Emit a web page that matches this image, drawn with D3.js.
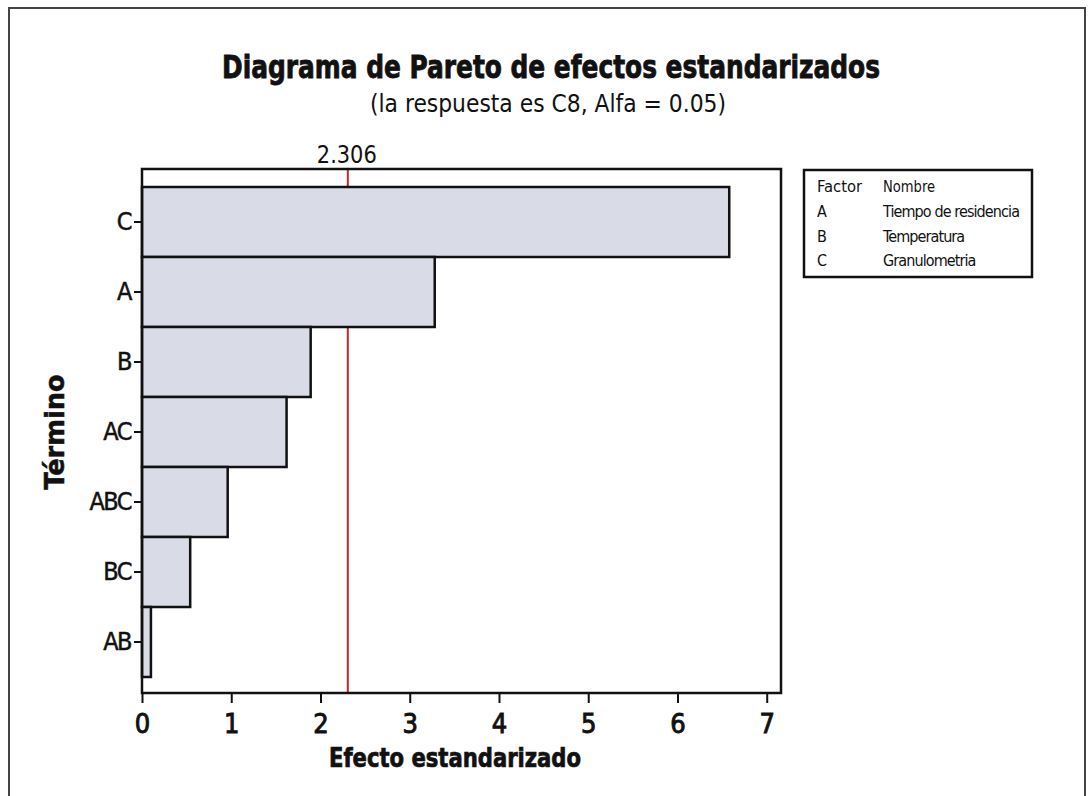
<!DOCTYPE html>
<html>
<head>
<meta charset="utf-8">
<script src="https://cdn.jsdelivr.net/npm/d3@7"></script>
<style>
  body { margin: 0; background: #fff; }
  text { font-family: "DejaVu Sans Condensed", "DejaVu Sans", sans-serif; fill: #111; }
  .tick line { stroke: #111; stroke-width: 2px; }
  .domain { display: none; }
</style>
</head>
<body>
<div class="container"></div>
<script>
const WIDTH = 1088;
const HEIGHT = 796;

// plot box
const PLOT_LEFT = 142;
const PLOT_RIGHT = 781;
const PLOT_TOP = 169;
const PLOT_BOTTOM = 693;

var terms = ['C', 'A', 'B', 'AC', 'ABC', 'BC', 'AB'];
var effects = [6.58, 3.28, 1.89, 1.62, 0.96, 0.54, 0.10];
var xTicks = [0, 1, 2, 3, 4, 5, 6, 7];
var critical = 2.306;

var legendFactors = ['A', 'B', 'C'];
var legendNames = ['Tiempo de residencia', 'Temperatura', 'Granulometria'];

var _xScale = d3.scaleLinear()
    .domain([0, 7.16])
    .range([PLOT_LEFT, PLOT_RIGHT]);

var _yScale = d3.scaleBand()
    .domain(terms)
    .range([187, 677])
    .padding(0);

var _svg = d3.select('.container').append('svg')
    .attr('width', WIDTH)
    .attr('height', HEIGHT);

// outer frame
_svg.append('rect')
    .attr('x', 9).attr('y', 8)
    .attr('width', 1076).attr('height', 800)
    .attr('fill', 'none')
    .attr('stroke', '#444')
    .attr('stroke-width', 2);

// titles
_svg.append('text')
    .attr('x', 551).attr('y', 78)
    .attr('text-anchor', 'middle')
    .attr('font-size', 32)
    .attr('font-weight', 'bold')
    .attr('stroke', '#111')
    .attr('stroke-width', 0.8)
    .attr('textLength', 658)
    .attr('lengthAdjust', 'spacingAndGlyphs')
    .text('Diagrama de Pareto de efectos estandarizados');

_svg.append('text')
    .attr('x', 548).attr('y', 112)
    .attr('text-anchor', 'middle')
    .attr('font-size', 24)
    .attr('textLength', 356)
    .attr('lengthAdjust', 'spacingAndGlyphs')
    .text('(la respuesta es C8, Alfa =  0.05)');

// critical line
_svg.append('line')
    .attr('x1', _xScale(critical)).attr('x2', _xScale(critical))
    .attr('y1', PLOT_TOP).attr('y2', PLOT_BOTTOM)
    .attr('stroke', '#c4262e')
    .attr('stroke-width', 2);

_svg.append('text')
    .attr('x', _xScale(critical) - 1).attr('y', 163)
    .attr('text-anchor', 'middle')
    .attr('font-size', 25)
    .attr('textLength', 60)
    .attr('lengthAdjust', 'spacingAndGlyphs')
    .text(critical.toFixed(3));

// bars
_svg.append('g').selectAll('rect')
    .data(terms)
    .enter().append('rect')
    .attr('x', _xScale(0))
    .attr('y', function (d) { return _yScale(d); })
    .attr('width', function (d, i) { return _xScale(effects[i]) - _xScale(0); })
    .attr('height', _yScale.bandwidth())
    .attr('fill', '#d9dce7')
    .attr('stroke', '#111')
    .attr('stroke-width', 2.5);

// plot border
_svg.append('rect')
    .attr('x', PLOT_LEFT).attr('y', PLOT_TOP)
    .attr('width', PLOT_RIGHT - PLOT_LEFT)
    .attr('height', PLOT_BOTTOM - PLOT_TOP)
    .attr('fill', 'none')
    .attr('stroke', '#111')
    .attr('stroke-width', 2.5);

// axes
var xAxis = d3.axisBottom(_xScale).tickValues(xTicks).tickSize(10).tickPadding(11)
    .tickFormat(d3.format('d'));
var gx = _svg.append('g')
    .attr('transform', 'translate(0,' + PLOT_BOTTOM + ')')
    .call(xAxis);
gx.selectAll('text').attr('font-size', 27)
    .attr('stroke', '#111').attr('stroke-width', 0.9)
    .attr('font-family', 'DejaVu Sans Condensed');

var yAxis = d3.axisLeft(_yScale).tickSize(8).tickPadding(3);
var gy = _svg.append('g')
    .attr('transform', 'translate(' + PLOT_LEFT + ',0)')
    .call(yAxis);
gy.selectAll('text').attr('font-size', 25).attr('font-family', 'DejaVu Sans Condensed')
    .attr('stroke', '#111').attr('stroke-width', 0.5)
    .attr('letter-spacing', -1.5);

// axis titles
_svg.append('text')
    .attr('x', 455).attr('y', 767)
    .attr('text-anchor', 'middle')
    .attr('font-size', 27)
    .attr('font-weight', 'bold')
    .attr('stroke', '#111')
    .attr('stroke-width', 0.7)
    .attr('textLength', 252)
    .attr('lengthAdjust', 'spacingAndGlyphs')
    .text('Efecto estandarizado');

_svg.append('text')
    .attr('transform', 'translate(64,432) rotate(-90)')
    .attr('text-anchor', 'middle')
    .attr('font-size', 27)
    .attr('font-weight', 'bold')
    .attr('stroke', '#111')
    .attr('stroke-width', 0.5)
    .attr('textLength', 115)
    .attr('lengthAdjust', 'spacingAndGlyphs')
    .text('Término');

// legend
var lg = _svg.append('g');
lg.append('rect')
    .attr('x', 804).attr('y', 170)
    .attr('width', 228).attr('height', 107)
    .attr('fill', '#fff')
    .attr('stroke', '#111')
    .attr('stroke-width', 2.5);

lg.append('text').attr('x', 817).attr('y', 192).attr('font-size', 16)
    .attr('textLength', 45).attr('lengthAdjust', 'spacingAndGlyphs').text('Factor');
lg.append('text').attr('x', 883).attr('y', 192).attr('font-size', 16)
    .attr('textLength', 52).attr('lengthAdjust', 'spacingAndGlyphs').text('Nombre');

lg.selectAll('.lf')
    .data(legendFactors)
    .enter().append('text')
    .attr('x', 817)
    .attr('y', function (d, i) { return 217 + i * 24.5; })
    .attr('font-size', 16)
    .text(function (d) { return d; });

lg.selectAll('.ln')
    .data(legendNames)
    .enter().append('text')
    .attr('x', 883)
    .attr('y', function (d, i) { return 217 + i * 24.5; })
    .attr('font-size', 16)
    .attr('letter-spacing', -0.9)
    .text(function (d) { return d; });
</script>
</body>
</html>
